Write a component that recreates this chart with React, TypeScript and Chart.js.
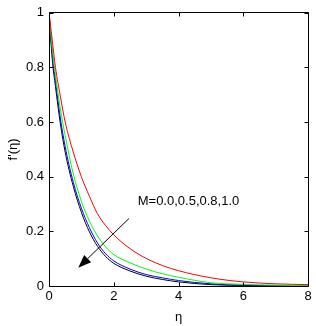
import React, { useEffect, useRef } from "react";
import { Chart, registerables } from "chart.js";

Chart.register(...registerables);

const ETA = [0, 0.1, 0.2, 0.35, 0.5, 0.75, 1.0, 1.25, 1.5, 1.75, 2.0, 2.5, 3.0, 3.5, 4.0, 5.0, 6.0, 7.0, 8.0];
const F_M00 = [1, 0.9, 0.8, 0.695, 0.6, 0.49, 0.4, 0.328, 0.264, 0.221, 0.187, 0.137, 0.101, 0.075, 0.056, 0.03, 0.015, 0.008, 0.005];
const F_M05 = [1, 0.87, 0.77, 0.65, 0.55, 0.41, 0.31, 0.237, 0.183, 0.143, 0.115, 0.085, 0.062, 0.045, 0.032, 0.012, 0.006, 0.003, 0.001];
const F_M08 = [1, 0.85, 0.75, 0.615, 0.51, 0.38, 0.285, 0.213, 0.157, 0.118, 0.092, 0.062, 0.042, 0.03, 0.02, 0.008, 0.003, 0.001, 0];
const F_M10 = [1, 0.83, 0.73, 0.595, 0.49, 0.365, 0.27, 0.198, 0.145, 0.108, 0.083, 0.055, 0.036, 0.024, 0.015, 0.005, 0.002, 0.001, 0];

const SERIES_LABELS = ["M=0.0", "M=0.5", "M=0.8", "M=1.0"];
const SERIES_COLORS = ["#ff0000", "#00ff00", "#0000ff", "#000000"];

const X_TICKS = [0, 2, 4, 6, 8];
const Y_TICKS = [0, 0.2, 0.4, 0.6, 0.8, 1];

const X_TITLE = "η";
const Y_TITLE = "f'(η)";

const NOTE_TEXT = "M=0.0,0.5,0.8,1.0";
const NOTE_AT = [2.74, 0.295];
const ARROW_FROM = [2.47, 0.247];
const ARROW_TO = [0.905, 0.067];

const FONT_FAMILY = "'Liberation Sans', Arial, sans-serif";

const boxPlugin = {
  id: "matlabBox",
  afterDatasetsDraw(chart: any) {
    const { ctx, chartArea, scales } = chart;
    const xs = scales.x;
    const ys = scales.y;
    const L = Math.round(chartArea.left) + 0.5;
    const R = Math.round(chartArea.right) + 0.5;
    const T = Math.round(chartArea.top) - 0.5;
    const B = Math.round(chartArea.bottom) + 0.5;
    ctx.save();
    ctx.strokeStyle = "#000";
    ctx.lineWidth = 1;
    ctx.beginPath();
    ctx.rect(L, T, R - L, B - T);
    const tl = 4;
    X_TICKS.forEach((v) => {
      const px = Math.round(xs.getPixelForValue(v)) + 0.5;
      ctx.moveTo(px, B);
      ctx.lineTo(px, B - tl);
      ctx.moveTo(px, T);
      ctx.lineTo(px, T + tl);
    });
    Y_TICKS.forEach((v) => {
      const py = Math.round(ys.getPixelForValue(v)) + 0.5;
      ctx.moveTo(L, py);
      ctx.lineTo(L + tl, py);
      ctx.moveTo(R, py);
      ctx.lineTo(R - tl, py);
    });
    ctx.stroke();

    // annotation text
    ctx.fillStyle = "#000";
    ctx.font = `13px ${FONT_FAMILY}`;
    ctx.textBaseline = "alphabetic";
    ctx.textAlign = "left";
    ctx.fillText(NOTE_TEXT, xs.getPixelForValue(NOTE_AT[0]), ys.getPixelForValue(NOTE_AT[1]));

    // arrow
    const x1 = xs.getPixelForValue(ARROW_FROM[0]);
    const y1 = ys.getPixelForValue(ARROW_FROM[1]);
    const x2 = xs.getPixelForValue(ARROW_TO[0]);
    const y2 = ys.getPixelForValue(ARROW_TO[1]);
    const ang = Math.atan2(y2 - y1, x2 - x1);
    const hl = 13;
    const hw = 5;
    const bx = x2 - hl * Math.cos(ang);
    const by = y2 - hl * Math.sin(ang);
    ctx.beginPath();
    ctx.moveTo(x1, y1);
    ctx.lineTo(bx, by);
    ctx.stroke();
    ctx.beginPath();
    ctx.moveTo(x2, y2);
    ctx.lineTo(bx + hw * Math.sin(ang), by - hw * Math.cos(ang));
    ctx.lineTo(bx - hw * Math.sin(ang), by + hw * Math.cos(ang));
    ctx.closePath();
    ctx.fill();
    ctx.restore();
  },
};

export default function App() {
  const ref = useRef<HTMLCanvasElement | null>(null);

  useEffect(() => {
    if (!ref.current) return;
    const seriesValues = [F_M00, F_M05, F_M08, F_M10];
    const datasets = seriesValues.map((vals, i) => ({
      label: SERIES_LABELS[i],
      data: vals.map((v, j) => ({ x: ETA[j], y: v })),
      borderColor: SERIES_COLORS[i],
      backgroundColor: SERIES_COLORS[i],
      borderWidth: 1,
      pointRadius: 0,
      fill: false,
      cubicInterpolationMode: "monotone" as const,
    }));
    const tickFont = { family: FONT_FAMILY, size: 13 };
    const chart = new Chart(ref.current, {
      type: "line",
      data: { datasets },
      plugins: [boxPlugin],
      options: {
        animation: false,
        responsive: false,
        maintainAspectRatio: false,
        layout: { padding: { top: 8, right: 8, left: 0, bottom: 0 } },
        plugins: { legend: { display: false }, tooltip: { enabled: false } },
        scales: {
          x: {
            type: "linear",
            min: 0,
            max: 8,
            border: { display: false },
            grid: { display: false, drawTicks: false },
            afterBuildTicks: (s: any) => {
              s.ticks = X_TICKS.map((v) => ({ value: v }));
            },
            ticks: { padding: 3, font: tickFont, color: "#000", maxRotation: 0, autoSkip: false },
            title: { display: true, text: X_TITLE, font: tickFont, color: "#000", padding: { top: 0, bottom: 1 } },
            afterFit: (s: any) => {
              s.height = 40;
            },
          },
          y: {
            type: "linear",
            min: 0,
            max: 1,
            border: { display: false },
            grid: { display: false, drawTicks: false },
            afterBuildTicks: (s: any) => {
              s.ticks = Y_TICKS.map((v) => ({ value: v }));
            },
            ticks: {
              padding: 5,
              font: tickFont,
              color: "#000",
              autoSkip: false,
              callback: (v: any) => String(Math.round(Number(v) * 10) / 10),
            },
            title: { display: true, text: Y_TITLE, font: tickFont, color: "#000", padding: { top: 6, bottom: 0 } },
            afterFit: (s: any) => {
              s.width = 49;
            },
          },
        },
      },
    });
    return () => chart.destroy();
  }, []);

  return (
    <div style={{ position: "absolute", left: 0, top: 0, width: 316, height: 326, background: "#fff" }}>
      <canvas ref={ref} width={316} height={326} style={{ display: "block", width: 316, height: 326 }} />
    </div>
  );
}
